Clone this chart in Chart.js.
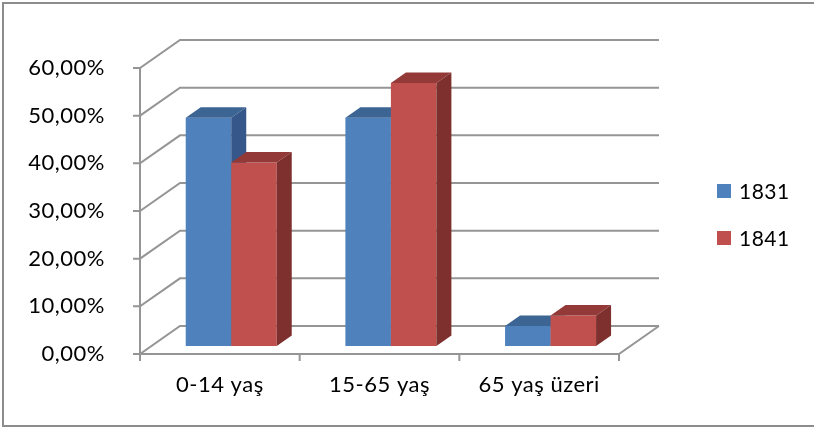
<!DOCTYPE html>
<html>
<head>
<meta charset="utf-8">
<script src="https://cdn.jsdelivr.net/npm/chart.js@4"></script>
<style>
  body { margin: 0; background: #fff; }
  #wrap { width: 814px; height: 429px; }
</style>
</head>
<body>
<div id="wrap"><canvas id="chart"></canvas></div>
<script>
// data
const categories = ['0-14 yaş', '15-65 yaş', '65 yaş üzeri'];
const seriesNames = ['1831', '1841'];
const values1831 = [47.9, 47.9, 4.2];
const values1841 = [38.5, 55.2, 6.4];
const yMax = 60;
const yStep = 10;

// colours: front / top / side
const faces = [
    { front: '#4f81bd', top: '#3d6594', side: '#36578a' },
    { front: '#c0504d', top: '#933a38', side: '#7e302e' }
];
const gridColor = '#959595';
const FONT = 'Lato';

// 3D depth of the floor and where the bars sit in it
const depth = { x: 40, y: -28 };
const barFront = 0.285, barBack = 0.66;

const fmtPct = v => v.toFixed(2).replace('.', ',') + '%';

const fake3d = {
    id: 'fake3d',
    beforeDraw(chart) {
        const ctx = chart.ctx;
        ctx.letterSpacing = '0.5px';
        ctx.save();
        ctx.strokeStyle = '#8c8c8c';
        ctx.lineWidth = 2;
        ctx.strokeRect(3, 3, chart.width + 10, chart.height - 6);
        ctx.restore();
    },
    beforeDatasetsDraw(chart) {
        const ctx = chart.ctx;
        const { left, right, top, bottom } = chart.chartArea;
        const ys = chart.scales.y, xs = chart.scales.x;
        ctx.save();
        ctx.strokeStyle = gridColor;
        ctx.lineWidth = 2;
        ctx.beginPath();
        ys.ticks.forEach(t => {
            const y = ys.getPixelForValue(t.value);
            ctx.moveTo(left - 7, y); ctx.lineTo(left, y);
            ctx.lineTo(left + depth.x, y + depth.y);
            ctx.lineTo(right + depth.x, y + depth.y);
        });
        // front axis + floor
        ctx.moveTo(left, top); ctx.lineTo(left, bottom);
        ctx.lineTo(right, bottom); ctx.lineTo(right + depth.x, bottom + depth.y);
        for (let i = 0; i <= categories.length; i++) {
            const x = xs.getPixelForValue(i - 0.5);
            ctx.moveTo(x, bottom); ctx.lineTo(x, bottom + 7);
        }
        ctx.stroke();
        ctx.restore();
    },
    afterDatasetsDraw(chart) {
        const ctx = chart.ctx;
        const fx = depth.x * barFront, fy = depth.y * barFront;
        const bx = depth.x * (barBack - barFront), by = depth.y * (barBack - barFront);
        ctx.save();
        categories.forEach((c, i) => {
            chart.data.datasets.forEach((ds, d) => {
                const el = chart.getDatasetMeta(d).data[i];
                const x0 = el.x - el.width / 2 + fx, x1 = el.x + el.width / 2 + fx;
                const yt = el.y + fy, yb = el.base + fy;
                const f = faces[d];
                ctx.fillStyle = f.front;
                ctx.fillRect(x0, yt, x1 - x0, yb - yt);
                ctx.fillStyle = f.top;
                ctx.beginPath();
                ctx.moveTo(x0, yt); ctx.lineTo(x1, yt);
                ctx.lineTo(x1 + bx, yt + by); ctx.lineTo(x0 + bx, yt + by);
                ctx.closePath(); ctx.fill();
                ctx.fillStyle = f.side;
                ctx.beginPath();
                ctx.moveTo(x1, yt); ctx.lineTo(x1 + bx, yt + by);
                ctx.lineTo(x1 + bx, yb + by); ctx.lineTo(x1, yb);
                ctx.closePath(); ctx.fill();
            });
        });
        ctx.restore();
    },
    afterDraw(chart) {
        // legend on the right
        const ctx = chart.ctx;
        ctx.save();
        ctx.font = '21px ' + FONT;
        ctx.textBaseline = 'middle';
        seriesNames.forEach((name, d) => {
            const y = 191 + d * 47;
            ctx.fillStyle = faces[d].front;
            ctx.fillRect(717, y - 7, 14, 14);
            ctx.fillStyle = '#000';
            ctx.fillText(name, 739, y + 1);
        });
        ctx.restore();
    }
};

new Chart(document.getElementById('chart'), {
    type: 'bar',
    data: {
        labels: categories,
        datasets: [
            { label: seriesNames[0], data: values1831, backgroundColor: 'rgba(0,0,0,0)' },
            { label: seriesNames[1], data: values1841, backgroundColor: 'rgba(0,0,0,0)' }
        ]
    },
    options: {
        responsive: true, maintainAspectRatio: false, animation: false,
        layout: { padding: { top: 68, right: 195, bottom: 0, left: 0 } },
        datasets: { bar: { categoryPercentage: 0.57, barPercentage: 1 } },
        plugins: { legend: { display: false }, tooltip: { enabled: false } },
        scales: {
            x: {
                grid: { display: false }, border: { display: false },
                ticks: { color: '#000', font: { family: FONT, size: 22 }, padding: 10, maxRotation: 0 },
                afterFit: s => { s.height = 75; }
            },
            y: {
                min: 0, max: yMax,
                grid: { display: false }, border: { display: false },
                ticks: { stepSize: yStep, color: '#000', font: { family: FONT, size: 22 }, padding: 27, callback: fmtPct },
                afterFit: s => { s.width = 140; }
            }
        }
    },
    plugins: [fake3d]
});
</script>
</body>
</html>
